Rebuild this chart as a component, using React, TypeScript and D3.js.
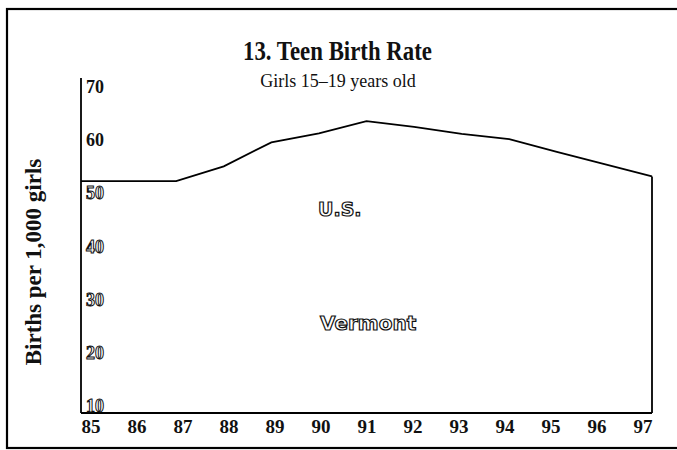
import React from "react";
import * as d3 from "d3";

const years = [85, 86, 87, 88, 89, 90, 91, 92, 93, 94, 95, 96, 97];
const usRate = [53.6, 53.6, 53.6, 56.4, 60.9, 62.6, 64.9, 63.8, 62.5, 61.5, 59.1, 56.8, 54.5];
const yTicks = [70, 60, 50, 40, 30, 20, 10];
const title = "13. Teen Birth Rate";
const subtitle = "Girls 15–19 years old";
const yTitle = "Births per 1,000 girls";
const seriesLabels = ["U.S.", "Vermont"];

const W = 677;
const H = 450;

export default function App() {
  const x = d3.scaleLinear().domain([85, 97]).range([81, 652]);
  const xLab = d3.scaleLinear().domain([85, 97]).range([91, 643]);
  const y = d3.scaleLinear().domain([10, 70]).range([413, 94]);
  const base = y(10);

  const area = d3
    .area<number>()
    .x((_, i) => x(years[i]))
    .y0(base)
    .y1((d) => y(d));
  const line = d3
    .line<number>()
    .x((_, i) => x(years[i]))
    .y((d) => y(d));

  const serif = "'Liberation Serif', 'DejaVu Serif', serif";
  const outlineFont = "'DejaVu Sans', sans-serif";

  return (
    <svg
      width={W}
      height={H}
      style={{ position: "absolute", left: 0, top: 0, background: "#fff" }}
    >
      <rect x={0} y={0} width={W} height={H} fill="#fff" />
      {/* frame */}
      <rect x={7} y={9} width={W + 10} height={439} fill="none" stroke="#000" strokeWidth={2.2} />

      {/* titles */}
      <text
        x={243}
        y={60}
        textLength={189}
        lengthAdjust="spacingAndGlyphs"
        fontFamily={serif}
        fontWeight="bold"
        fontSize={28}
        fill="#111"
      >
        {title}
      </text>
      <text x={338} y={87} textAnchor="middle" fontFamily={serif} fontSize={18} fill="#111">
        {subtitle}
      </text>

      {/* y title */}
      <text
        transform={`translate(41,${262}) rotate(-90)`}
        textAnchor="middle"
        fontFamily={serif}
        fontWeight="bold"
        fontSize={23}
        fill="#111"
      >
        {yTitle}
      </text>

      {/* US area */}
      <path d={area(usRate) ?? ""} fill="#fff" stroke="none" />
      <path d={line(usRate) ?? ""} fill="none" stroke="#000" strokeWidth={1.8} />
      <line x1={x(97)} x2={x(97)} y1={y(usRate[usRate.length - 1])} y2={base} stroke="#000" strokeWidth={1.8} />

      {/* axes */}
      <line x1={x(85)} x2={x(85)} y1={y(70) - 16} y2={base} stroke="#000" strokeWidth={1.8} />
      <line x1={x(85)} x2={x(97)} y1={base} y2={base} stroke="#000" strokeWidth={1.8} />

      {/* y tick labels */}
      {yTicks.map((v) => (
        <text
          key={v}
          x={86}
          y={y(v) - 1}
          fontFamily={serif}
          fontWeight="bold"
          fontSize={18}
          fill={v <= 50 ? "#fff" : "#111"}
          stroke={v <= 50 ? "#111" : "none"}
          strokeWidth={v <= 50 ? 1 : 0}
        >
          {v}
        </text>
      ))}

      {/* x tick labels */}
      {years.map((yr) => (
        <text
          key={yr}
          x={xLab(yr)}
          y={433}
          textAnchor="middle"
          fontFamily={serif}
          fontWeight="bold"
          fontSize={19}
          fill="#111"
        >
          {yr}
        </text>
      ))}

      {/* series labels (outlined) */}
      <text
        x={318}
        y={216}
        fontFamily={outlineFont}
        fontWeight="bold"
        fontSize={19}
        fill="#fff"
        stroke="#111"
        strokeWidth={1.2}
      >
        {seriesLabels[0]}
      </text>
      <text
        x={320}
        y={330}
        fontFamily={outlineFont}
        fontWeight="bold"
        fontSize={20}
        fill="#fff"
        stroke="#111"
        strokeWidth={1.2}
      >
        {seriesLabels[1]}
      </text>
    </svg>
  );
}
